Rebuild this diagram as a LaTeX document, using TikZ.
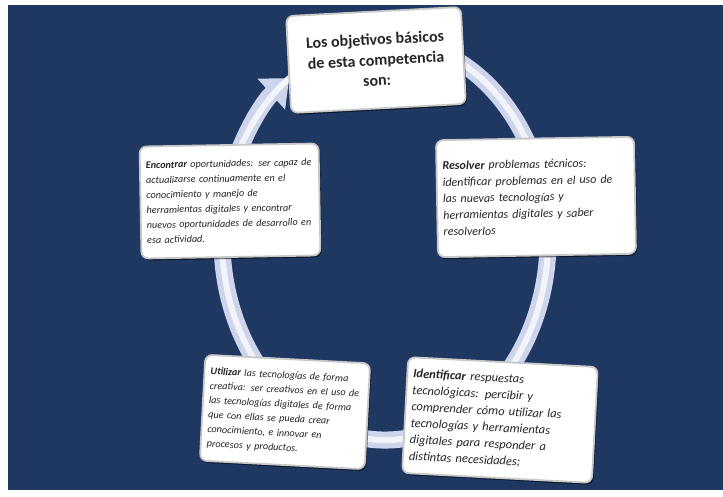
\documentclass[tikz,border=0pt]{standalone}
\usepackage{fontspec}
\setmainfont{Carlito}
\usetikzlibrary{arrows.meta,shadows}
\definecolor{fondo}{RGB}{31,56,98}
\definecolor{anillo}{RGB}{205,212,236}
\tolerance=10000
\hyphenpenalty=10000
\newcommand{\justo}{\rightskip=0pt\relax\parindent=0pt\relax}
\begin{document}
\begin{tikzpicture}[
	x=1pt, y=1pt,
	caja/.style={ draw=black!22, line width=1.8pt, fill=white, rounded corners=7pt, inner xsep=6pt, inner ysep=4pt, text=black!85, drop shadow={shadow xshift=1.5pt, shadow yshift=-2pt, opacity=.55, fill=black} },
	parrafo/.style 2 args={ caja, font=\itshape\fontsize{#1}{#2}\selectfont },
	ring/.style={ anillo, line width=17pt, -{Triangle[width=40pt,length=24pt]} },
	brillo/.style={ white!75!anillo, line width=6pt }
]

\useasboundingbox (0,0) rectangle (723,497);
\fill[fondo] (8,7) rectangle (723,492);

% ring
\coordinate (centro) at (385,257);
\draw[ring] (centro) ++(70:163 and 200)
	arc[start angle=70, end angle=-234, x radius=163, y radius=200];
\draw[brillo] (centro) ++(70:163 and 200)
	arc[start angle=70, end angle=-242, x radius=163, y radius=200];

\node at (376,437) (obj) [caja,rotate=3,minimum width=175pt,minimum height=97pt,align=center,font=\bfseries\fontsize{16}{20.5}\selectfont]
	{Los objetivos básicos\\de esta competencia\\son:};

\node at (536,300) (res) [parrafo={12}{16.5},rotate=1,text width=186pt,minimum height=117pt]
	{\justo\textbf{Resolver} problemas técnicos:\linebreak
	identificar problemas en el uso de\linebreak
	las nuevas tecnologías y\linebreak
	herramientas digitales y saber\linebreak
	resolverlos};

\node at (230,296) (enc) [parrafo={10.2}{15},rotate=1,text width=167pt,minimum height=112pt]
	{\justo\parfillskip=0pt
	\textbf{Encontrar} oportunidades: ser capaz de\linebreak
	actualizarse continuamente en el\linebreak
	conocimiento y manejo de\linebreak
	herramientas digitales y encontrar\linebreak
	nuevos oportunidades de desarrollo en\linebreak
	esa actividad.};

\node at (285,85) (uti) [parrafo={10.2}{14.5},rotate=-3,text width=153pt,minimum height=106pt]
	{\justo\textbf{Utilizar} las tecnologías de forma\linebreak
	creativa: ser creativos en el uso de\linebreak
	las tecnologías digitales de forma\linebreak
	que con ellas se pueda crear\linebreak
	conocimiento, e innovar en\linebreak
	procesos y productos.};

\node at (500,77) (ide) [parrafo={12.5}{16.5},rotate=-3,text width=178pt,minimum height=116pt]
	{\justo\textbf{Identificar} respuestas\linebreak
	tecnológicas: percibir y\linebreak
	comprender cómo utilizar las\linebreak
	tecnologías y herramientas\linebreak
	digitales para responder a\linebreak
	distintas necesidades;};

\end{tikzpicture}
\end{document}
